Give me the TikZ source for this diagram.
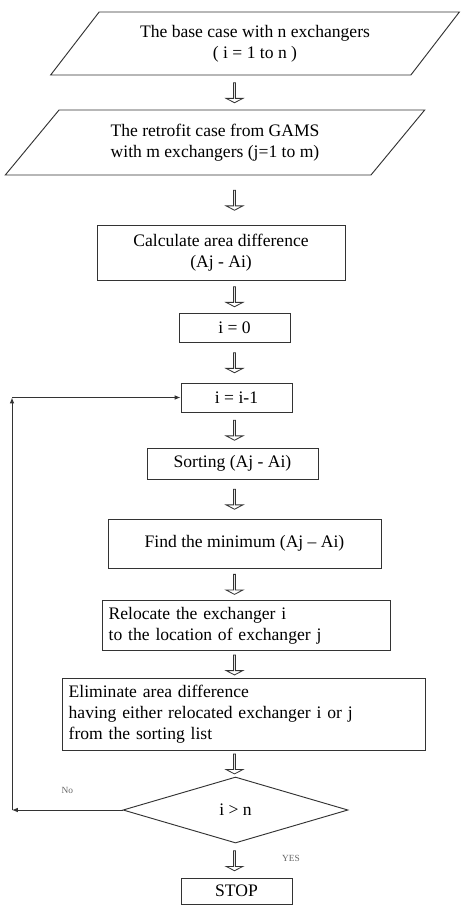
\documentclass[tikz,border=0pt]{standalone}
\usepackage{fontspec}
\setmainfont{Liberation Serif}
\usetikzlibrary{shapes.geometric}
\usetikzlibrary{shapes.arrows}
\usetikzlibrary{positioning}
\usetikzlibrary{arrows.meta}

\tikzset{
  box/.style={draw=black!80, line width=0.8pt, rectangle, align=center, inner sep=0.2cm},
  datain/.style={draw=black!80, line width=0.8pt, trapezium, trapezium stretches=true, trapezium left angle=46, trapezium right angle=134, align=center, inner sep=0pt},
  test/.style={draw=black!80, line width=0.8pt, diamond, inner sep=0pt},
  blockarrow/.style={draw=black!80, line width=0.7pt, single arrow, rotate=-90, minimum width=0.5cm, minimum height=0.6cm, single arrow head extend=0.1cm, single arrow tip angle=125, inner sep=0pt},
  lbl/.style={font=\footnotesize, text=black!60},
  loopline/.style={draw=black!80, line width=0.8pt, -{Latex[length=5pt,width=4pt]}}
}

\begin{document}
\begin{tikzpicture}[x=0.03cm, y=-0.03cm, font=\fontsize{15}{18}\selectfont]
            \useasboundingbox (0,0) rectangle (462,906);

            \node[datain, minimum width=12.3cm, minimum height=1.89cm] (base) at (255,43.5) {The base case with n exchangers\\( i = 1 to n )};
            \node[datain, minimum width=12.6cm, minimum height=1.95cm] (retro) at (215,142.5) {The retrofit case from GAMS\\with m exchangers (j=1 to m)};
            \node[box, minimum width=7.44cm, minimum height=1.65cm] (calc) at (221,252.5) {Calculate area difference\\(Aj - Ai)};
            \node[box, minimum width=3.33cm, minimum height=0.87cm] (init) at (234.5,327.5) {i = 0};
            \node[box, minimum width=3.33cm, minimum height=0.87cm] (inc) at (236.5,397.5) {i = i-1};
            \node[box, minimum width=5.13cm, minimum height=0.93cm] (sort) at (232.5,463.5) {Sorting (Aj - Ai)};
            \node[box, minimum width=8.19cm, minimum height=1.47cm] (find) at (244.5,543.5) {Find the minimum (Aj – Ai)};
            \node[box, text width=8.24cm, align=left, minimum height=1.47cm] (reloc) at (246,625.5) {Relocate the exchanger i\\to the location of exchanger j};
            \node[box, text width=10.49cm, align=left, minimum height=2.07cm] (elim) at (243.5,714.5) {Eliminate area difference\\having either relocated exchanger i or j\\from the sorting list};
            \node[test, minimum width=6.75cm, minimum height=1.98cm] (dec) at (235.5,810) {i > n};
            \node[box, minimum width=3.33cm, minimum height=0.78cm] (stop) at (236.5,891) {STOP};

            % block arrows down the main column
            \path (base.south -| init) -- node[blockarrow] (a1) {} (retro.north -| init);
            \path (retro.south -| init) -- node[blockarrow] (a2) {} (calc.north -| init);
            \path (calc.south -| init) -- node[blockarrow] (a3) {} (init.north);
            \path (init.south) -- node[blockarrow] (a4) {} (inc.north -| init);
            \path (inc.south -| init) -- node[blockarrow] (a5) {} (sort.north -| init);
            \path (sort.south -| init) -- node[blockarrow] (a6) {} (find.north -| init);
            \path (find.south -| init) -- node[blockarrow] (a7) {} (reloc.north -| init);
            \path (reloc.south -| init) -- node[blockarrow] (a8) {} (elim.north -| init);
            \path (elim.south -| init) -- node[blockarrow] (a9) {} (dec.north -| init);
            \path (dec.south -| init) -- node[blockarrow] (a10) {} (stop.north -| init);

            % loop back
            \coordinate (loop) at (12,810);
            \coordinate (top) at (loop |- inc.west);
            \draw[loopline] (dec.west) -- node[lbl, above=0.35cm] (nolbl) {No} (loop);
            \draw[loopline] (loop) -- (top);
            \draw[loopline] (top) -- (inc.west);

            \node[lbl] (yeslbl) at (291,858) {YES};
        \end{tikzpicture}
\end{document}
